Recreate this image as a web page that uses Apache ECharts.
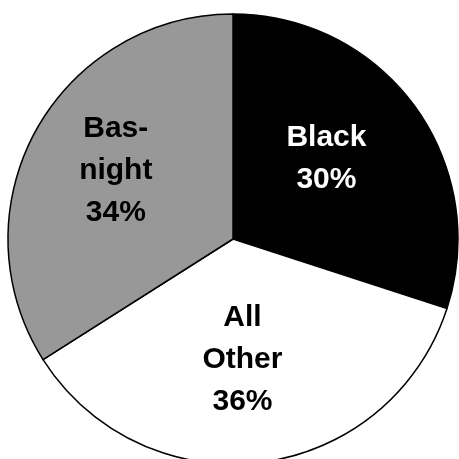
<!DOCTYPE html>
<html>
<head>
<meta charset="utf-8">
<script src="https://cdn.jsdelivr.net/npm/echarts@6/dist/echarts.min.js"></script>
<style>
html, body { margin: 0; padding: 0; background: #fff; }
#main { width: 459px; height: 459px; }
</style>
</head>
<body>
<div id="main"></div>
<script>
var names = ['Black', 'All\nOther', 'Bas-\nnight'];
var shares = [30, 36, 34];
var fills = ['#000000', '#ffffff', '#989898'];
var textColors = ['#ffffff', '#000000', '#000000'];
// nudge labels to where the original sits them
var labelOffsets = [[0, -12], [-5, 6], [-16, -13]];

var chart = echarts.init(document.getElementById('main'), null, { renderer: 'canvas' });

var data = names.map(function (n, i) {
    return {
        name: n,
        value: shares[i],
        itemStyle: { color: fills[i] },
        label: { color: textColors[i], offset: labelOffsets[i] }
    };
});

chart.setOption({
    animation: false,
    backgroundColor: '#ffffff',
    series: [{
        type: 'pie',
        center: [233, 239],
        radius: [0, 225],
        startAngle: 90,
        clockwise: true,
        silent: true,
        itemStyle: { borderColor: '#000', borderWidth: 1.5 },
        label: {
            position: 'inside',
            fontFamily: 'Liberation Sans, Arial, sans-serif',
            fontWeight: 'bold',
            fontSize: 30,
            lineHeight: 42,
            formatter: function (p) { return p.name + '\n' + p.value + '%'; }
        },
        labelLine: { show: false },
        data: data
    }]
});
</script>
</body>
</html>
